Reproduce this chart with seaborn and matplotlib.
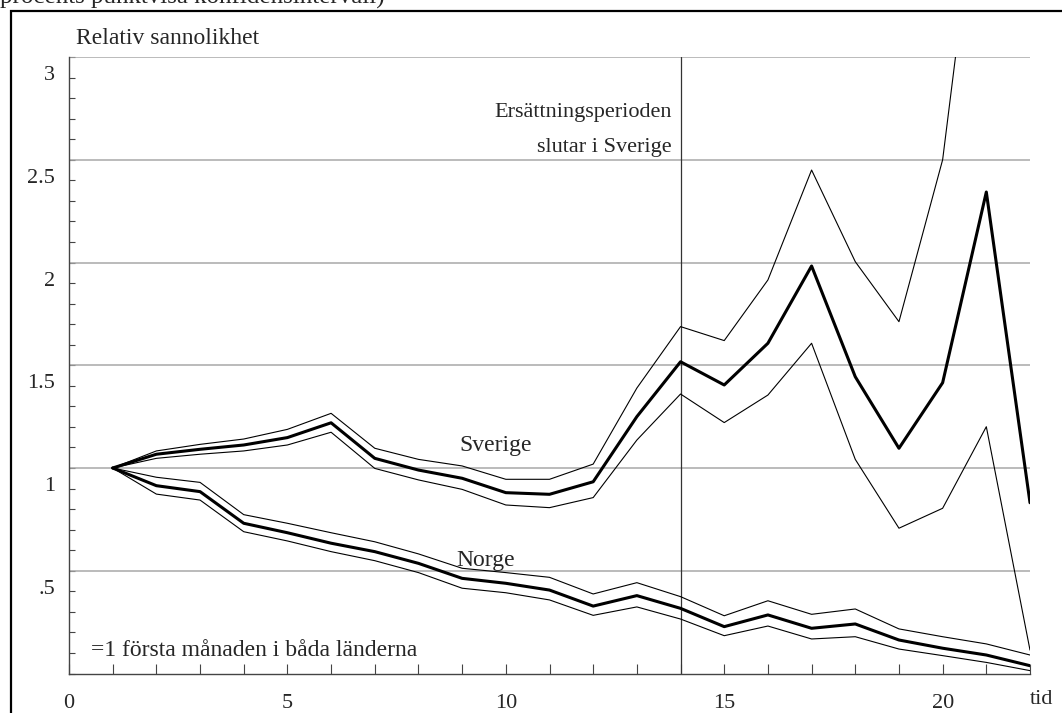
import numpy as np
import pandas as pd
import seaborn as sns
import matplotlib
import matplotlib.pyplot as plt
import matplotlib.transforms as mtransforms
from matplotlib.ticker import MultipleLocator

matplotlib.use('Agg')

# Data (month 1..22)
tid = list(range(1, 23))

sverige = [1.0, 1.067, 1.091, 1.112, 1.148, 1.22, 1.047, 0.99, 0.95, 0.88, 0.872,
           0.933, 1.25, 1.517, 1.404, 1.607, 1.983, 1.444, 1.096, 1.415, 2.343, 0.831]
sverige_upper = [1.0, 1.083, 1.115, 1.141, 1.188, 1.266, 1.096, 1.042, 1.01, 0.945, 0.945,
                 1.019, 1.389, 1.688, 1.62, 1.915, 2.45, 2.004, 1.712, 2.5, 4.2, 4.0]
sverige_lower = [1.0, 1.047, 1.067, 1.083, 1.112, 1.174, 0.998, 0.942, 0.896, 0.82, 0.807,
                 0.856, 1.136, 1.36, 1.221, 1.355, 1.607, 1.042, 0.707, 0.804, 1.201, 0.114]

norge = [1.0, 0.914, 0.885, 0.731, 0.685, 0.634, 0.593, 0.536, 0.463, 0.439, 0.406,
         0.328, 0.379, 0.317, 0.228, 0.285, 0.22, 0.241, 0.163, 0.123, 0.09, 0.038]
norge_upper = [1.0, 0.955, 0.93, 0.773, 0.731, 0.685, 0.641, 0.582, 0.512, 0.491, 0.468,
               0.387, 0.442, 0.374, 0.281, 0.354, 0.288, 0.314, 0.217, 0.179, 0.144, 0.09]
norge_lower = [1.0, 0.873, 0.844, 0.69, 0.645, 0.593, 0.549, 0.491, 0.415, 0.393, 0.358,
               0.283, 0.324, 0.265, 0.184, 0.231, 0.168, 0.179, 0.119, 0.087, 0.054, 0.014]

y_ticks = [0.5, 1, 1.5, 2, 2.5, 3]
y_tick_labels = ['.5', '1', '1.5', '2', '2.5', '3']
x_ticks = [0, 5, 10, 15, 20]

series = {
    'Sverige': (sverige, 2.2),
    'Sverige övre': (sverige_upper, 0.8),
    'Sverige nedre': (sverige_lower, 0.8),
    'Norge': (norge, 2.2),
    'Norge övre': (norge_upper, 0.8),
    'Norge nedre': (norge_lower, 0.8),
}

sns.set_style('white')
plt.rcParams['font.family'] = ['Liberation Serif', 'DejaVu Serif']

fig = plt.figure(figsize=(10.62, 7.13), dpi=100)
ax = fig.add_axes([69 / 1062, 1 - 673.5 / 713, (1030 - 69) / 1062, (673.5 - 57) / 713])

# Horizontal grid lines
for y in y_ticks:
    ax.axhline(y, color='#a8a8a8', lw=1.1, zorder=1)

# End of benefit period in Sweden
ax.axvline(14, color='#333333', lw=0.9, zorder=2)

for name, (vals, lw) in series.items():
    df = pd.DataFrame({'tid': tid, 'varde': vals})
    sns.lineplot(data=df, x='tid', y='varde', color='black', lw=lw, ax=ax, zorder=3)

ax.set_xlim(0, 22)
ax.set_ylim(0, 3)
ax.set_xlabel('')
ax.set_ylabel('')

for side in ['top', 'right']:
    ax.spines[side].set_visible(False)
for side in ['left', 'bottom']:
    ax.spines[side].set_color('#444444')
    ax.spines[side].set_linewidth(1.0)

ax.set_yticks(y_ticks)
ax.set_yticklabels(y_tick_labels)
ax.yaxis.set_minor_locator(MultipleLocator(0.1))
ax.set_xticks(x_ticks)
ax.xaxis.set_minor_locator(MultipleLocator(1))
ax.tick_params(axis='y', which='both', direction='in', length=4, width=0.8,
               color='#444444', labelsize=16, pad=10, left=True)
ax.tick_params(axis='x', which='both', direction='in', length=7, width=0.8,
               color='#444444', labelsize=16, pad=15, bottom=True)

# the y labels sit a little below their grid lines in the reference
shift = mtransforms.ScaledTranslation(0, -16 / 100, fig.dpi_scale_trans)
for lbl in ax.get_yticklabels():
    lbl.set_transform(lbl.get_transform() + shift)

# Texts
ax.text(13.8, 2.73, 'Ersättningsperioden', ha='right', va='center', fontsize=16)
ax.text(13.8, 2.56, 'slutar i Sverige', ha='right', va='center', fontsize=16)
ax.text(9.77, 1.11, 'Sverige', ha='center', va='center', fontsize=17)
ax.text(9.54, 0.55, 'Norge', ha='center', va='center', fontsize=17)
ax.text(0.5, 0.114, '=1 första månaden i båda länderna', ha='left', va='center', fontsize=17)

fig.text(76 / 1062, 1 - 38 / 713, 'Relativ sannolikhet', ha='left', va='center', fontsize=17)
fig.text(1030 / 1062, 1 - 700 / 713, 'tid', ha='left', va='center', fontsize=16)
fig.text(0.0, 1.0 + 3 / 713, 'procents punktvisa konfidensintervall)', ha='left', va='center',
         fontsize=18)

# Frame around the figure panel
frame = plt.Rectangle((11 / 1062, -0.1), 1.2, 1.1 - 11 / 713, transform=fig.transFigure,
                      fill=False, edgecolor='black', lw=1.6)
fig.add_artist(frame)

fig.savefig('out.png', dpi=100)
